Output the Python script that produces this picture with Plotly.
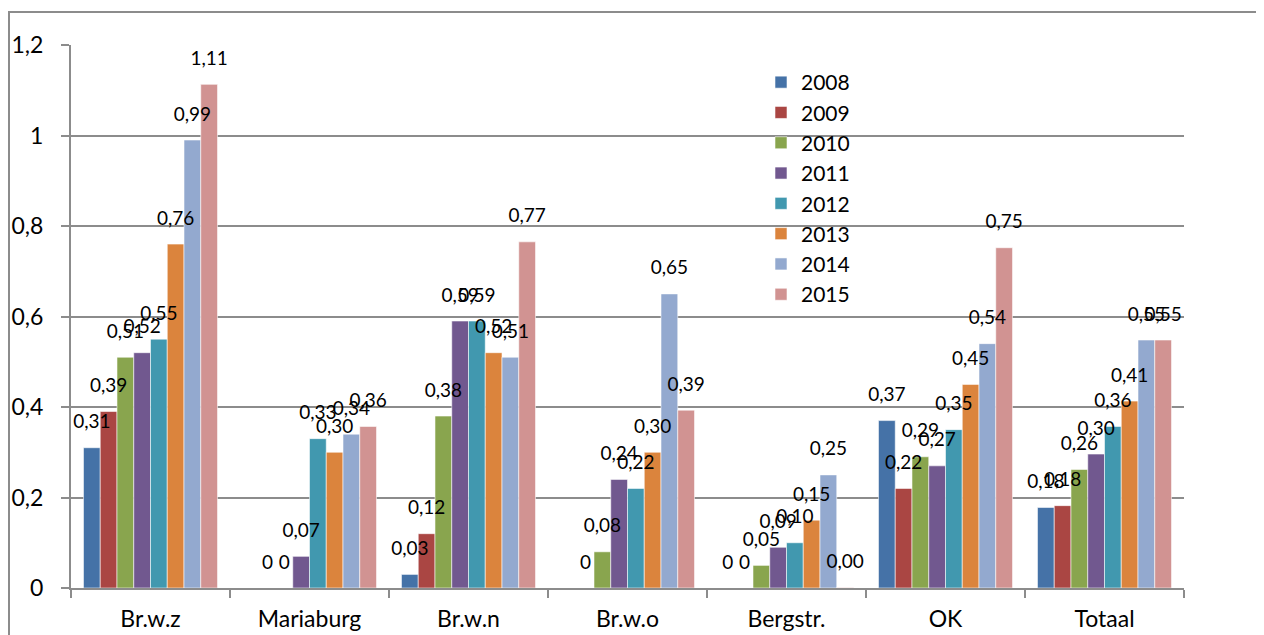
import plotly.graph_objects as go

categories = ["Br.w.z", "Mariaburg", "Br.w.n", "Br.w.o", "Bergstr.", "OK", "Totaal"]
years = ["2008", "2009", "2010", "2011", "2012", "2013", "2014", "2015"]

v2008 = [0.31, None, 0.03, None, 0.0, 0.37, 0.178]
v2009 = [0.39, 0.0, 0.12, 0.0, 0.0, 0.22, 0.182]
v2010 = [0.51, 0.0, 0.38, 0.08, 0.05, 0.29, 0.262]
v2011 = [0.52, 0.07, 0.59, 0.24, 0.09, 0.27, 0.296]
v2012 = [0.55, 0.33, 0.59, 0.22, 0.10, 0.35, 0.357]
v2013 = [0.76, 0.30, 0.52, 0.30, 0.15, 0.45, 0.413]
v2014 = [0.99, 0.34, 0.51, 0.65, 0.25, 0.54, 0.548]
v2015 = [1.113, 0.357, 0.765, 0.393, 0.001, 0.752, 0.548]
series = [v2008, v2009, v2010, v2011, v2012, v2013, v2014, v2015]

colors = ["#4572A7", "#AA4643", "#89A54E", "#71588F", "#4198AF", "#DB843D", "#93A9CF", "#D19392"]

y_ticks = [0, 0.2, 0.4, 0.6, 0.8, 1.0, 1.2]
y_ticktext = ["0", "0,2", "0,4", "0,6", "0,8", "1", "1,2"]

FONT = "Lato"

# figure geometry (page body adds an 8px offset)
W, H = 1256, 627
L, R, T, B = 63, 80, 37, 47
PW, PH = W - L - R, H - T - B


def fmt(v):
    if v is None:
        return ""
    if v == 0:
        return "0"
    return f"{v:.2f}".replace(".", ",")


fig = go.Figure()
for yr, vals, col in zip(years, series, colors):
    fig.add_trace(go.Bar(
        x=categories, y=vals, name=yr,
        marker=dict(color=col, line=dict(color="rgba(255,255,255,0.7)", width=0.8)),
        hoverinfo="skip",
        offsetgroup=yr,
    ))
for yr, vals in zip(years, series):
    fig.add_trace(go.Scatter(
        x=categories, y=vals, mode="markers+text",
        text=[fmt(v) for v in vals], textposition="top center",
        textfont=dict(family=FONT, size=19, color="#000000"),
        marker=dict(size=22, opacity=0),
        showlegend=False, hoverinfo="skip", cliponaxis=False,
        offsetgroup=yr,
    ))

fig.update_layout(
    width=W, height=H,
    margin=dict(l=L, r=R, t=T, b=B),
    paper_bgcolor="white", plot_bgcolor="white",
    barmode="group", bargap=0.157, bargroupgap=0,
    scattermode="group", scattergap=0.157,
    font=dict(family=FONT, color="#000000"),
    showlegend=True,
    legend=dict(
        x=(753 - L) / PW, y=1 - 17 / PH, xanchor="left", yanchor="top",
        font=dict(family=FONT, size=21, color="#000000"),
        bgcolor="rgba(0,0,0,0)", itemwidth=30,
    ),
    xaxis=dict(
        type="category", showgrid=False, automargin=False,
        showline=True, linecolor="#8c8c8c", linewidth=2,
        ticks="outside", tickson="boundaries", ticklen=8, tickwidth=2, tickcolor="#8c8c8c",
        ticklabelstandoff=9,
        tickfont=dict(family=FONT, size=23),
    ),
    yaxis=dict(
        range=[0, 1.2], tickvals=y_ticks, ticktext=y_ticktext, automargin=False,
        showgrid=True, gridcolor="#8c8c8c", gridwidth=2,
        showline=True, linecolor="#8c8c8c", linewidth=2,
        ticks="outside", ticklen=8, tickwidth=2, tickcolor="#8c8c8c",
        ticklabelstandoff=13,
        tickfont=dict(family=FONT, size=23),
        zeroline=False,
    ),
    shapes=[dict(
        type="rect", xref="paper", yref="paper",
        x0=(1 - L) / PW, x1=(1254 - L) / PW,
        y0=-0.2, y1=(T + PH - 4) / PH,
        line=dict(color="#8c8c8c", width=2), fillcolor="rgba(0,0,0,0)",
        layer="below",
    )],
)

fig.write_html("out.html")
